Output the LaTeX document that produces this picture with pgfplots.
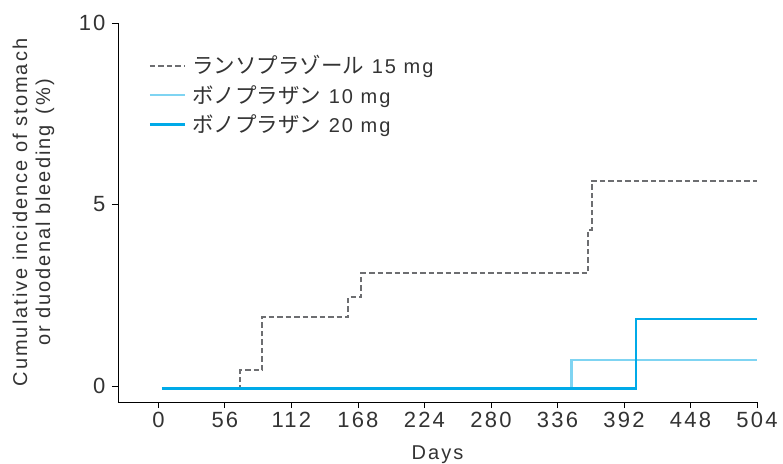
\documentclass[border=0pt]{standalone}
\usepackage{pgfplots}
\pgfplotsset{compat=1.18}
\usepackage{fontspec}
\setmainfont{Liberation Sans}[LetterSpace=10]
\newfontfamily\jp{Noto Sans CJK JP}
\definecolor{lanso}{HTML}{6D6E71}
\definecolor{vlight}{HTML}{7FD4F2}
\definecolor{vdark}{HTML}{00AAE8}
\definecolor{txt}{HTML}{333333}
\begin{document}
\begin{tikzpicture}
\begin{axis}[
  name=ax,
  scale only axis,
  width=639bp, height=379bp,
  xmin=-34, xmax=504, ymin=-0.44, ymax=10,
  axis lines=left,
  axis line style={-, line width=0.8bp, black},
  xtick={0,56,112,168,224,280,336,392,448,504},
  ytick={0,5,10},
  tick align=outside,
  major tick length=6bp,
  tick style={line width=0.8bp, black},
  /pgf/number format/assume math mode=true,
  ticklabel style={font=\fontsize{22bp}{26bp}\selectfont, text=txt},
  yticklabel style={xshift=-3bp},
  xticklabel style={yshift=-1bp},
  xlabel={Days},
  xlabel style={font=\fontsize{20bp}{24bp}\selectfont, text=txt,
    at={([yshift=-53bp]axis description cs:0.5,0)}, anchor=center},
  ylabel={\begin{tabular}{c}Cumulative incidence of stomach\\[0bp]or duodenal bleeding\ \,(\%)\end{tabular}},
  ylabel style={font=\fontsize{20bp}{23bp}\selectfont, text=txt,
    at={([xshift=-84bp]axis description cs:0,0.5)}, anchor=center},
  legend style={draw=none, fill=none, at={(0.043,0.925)}, anchor=north west,
    font=\fontsize{20bp}{24bp}\selectfont, text=txt, row sep=6bp},
  legend cell align=left,
  legend image code/.code={\draw[#1] (0bp,0bp) -- (35bp,0bp); \path (39bp,0bp);},
]
\addplot[const plot, color=lanso, line width=2bp, dash pattern=on 5.5bp off 3bp] coordinates {
 (3,-0.08) (69,0.44) (87.5,1.9) (160,2.45) (171,3.11) (362,4.3) (365,5.65) (504,5.65)};
\addlegendentry{{\jp\fontsize{21.5bp}{24bp}\selectfont ランソプラゾール} 15 mg}
\addplot[const plot, color=vlight, line width=2.6bp] coordinates {
 (3,-0.06) (348,0.72) (504,0.72)};
\addlegendentry{{\jp\fontsize{21.5bp}{24bp}\selectfont ボノプラザン} 10 mg}
\addplot[const plot, color=vdark, line width=2.6bp] coordinates {
 (3,-0.06) (402,1.85) (504,1.85)};
\addlegendentry{{\jp\fontsize{21.5bp}{24bp}\selectfont ボノプラザン} 20 mg}
\end{axis}
\pgfresetboundingbox
\path ([xshift=-118bp,yshift=23bp]ax.north west) rectangle ([xshift=26bp,yshift=-62bp]ax.south east);
\end{tikzpicture}
\end{document}
